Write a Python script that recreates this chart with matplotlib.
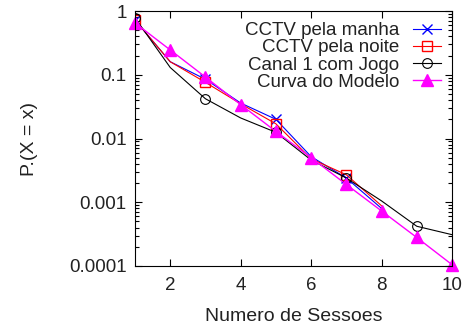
import matplotlib
matplotlib.use('Agg')
import matplotlib.pyplot as plt
from matplotlib.ticker import LogLocator, NullFormatter

plt.rcParams['font.family'] = ['Liberation Sans', 'DejaVu Sans']

sessoes = [1, 2, 3, 4, 5, 6, 7, 8, 9, 10]
manha = [0.72, 0.16, 0.085, 0.036, 0.020, 0.0052, 0.0024, 0.0008]
noite = [0.72, 0.16, 0.076, 0.035, 0.017, 0.0048, 0.0027, 0.00088]
canal1 = [0.78, 0.13, 0.042, 0.021, 0.0125, 0.0046, 0.0024, 0.00105, 0.00042, 0.00031]
modelo = [0.65, 0.245, 0.092, 0.034, 0.0129, 0.005, 0.0019, 0.00073, 0.00028, 0.000105]

fig = plt.figure(figsize=(4.7, 3.25), dpi=100)
ax = fig.add_axes([135 / 470, 1 - 266 / 325, (452 - 135) / 470, (266 - 11) / 325])

ax.plot(sessoes[:len(manha)], manha, color='#0000ff', lw=0.8, marker='x',
        ms=7, mew=1, markevery=2, label='CCTV pela manha')
ax.plot(sessoes[:len(noite)], noite, color='#ff0000', lw=0.8, marker='s',
        ms=7, mew=1, mfc='none', markevery=2, label='CCTV pela noite')
ax.plot(sessoes, canal1, color='black', lw=0.8, marker='o', ms=7, mew=0.8,
        mfc='none', markevery=2, label='Canal 1 com Jogo')
ax.plot(sessoes, modelo, color='#ff00ff', lw=1.0, marker='^', ms=8,
        label='Curva do Modelo', clip_on=False)

ax.set_yscale('log')
ax.set_xlim(1, 10)
ax.set_ylim(0.0001, 1)
ax.set_xticks([2, 4, 6, 8, 10])
ax.set_yticks([0.0001, 0.001, 0.01, 0.1, 1])
ax.set_yticklabels(['0.0001', '0.001', '0.01', '0.1', '1'])
ax.yaxis.set_minor_locator(LogLocator(base=10, subs=range(2, 10)))
ax.yaxis.set_minor_formatter(NullFormatter())
ax.tick_params(which='both', direction='in', top=True, right=True,
               labelsize=13.5, width=0.8, colors='black', labelcolor='#222222')
ax.tick_params(which='major', length=5)
ax.tick_params(axis='y', which='major', pad=6)
ax.tick_params(axis='x', which='major', pad=8)
ax.tick_params(which='minor', length=3)

ax.set_xlabel('Numero de Sessoes', fontsize=14, labelpad=10, color='#222222')
ax.set_ylabel('P.(X = x)', fontsize=14, labelpad=22, color='#222222')

leg = ax.legend(loc='upper right', markerfirst=False, frameon=False, fontsize=13.5,
                handlelength=1.5, handletextpad=0.7, labelspacing=0.0,
                borderaxespad=0.2, borderpad=0.4)
for t in leg.get_texts():
    t.set_color('#222222')

fig.savefig('out.png', dpi=100)
